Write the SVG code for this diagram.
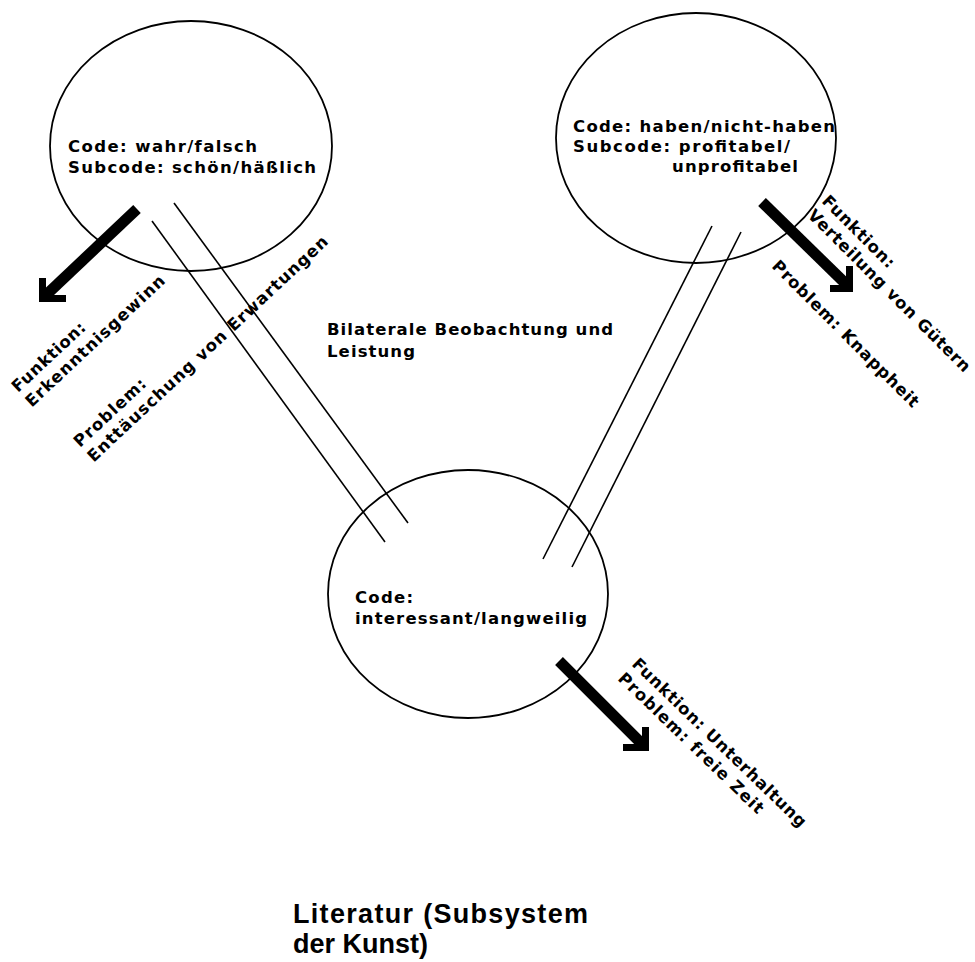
<svg xmlns="http://www.w3.org/2000/svg" width="975" height="962" viewBox="0 0 975 962">
  <style>
    .sys { fill: none; stroke: #000; stroke-width: 1.8; }
    .link { stroke: #000; stroke-width: 1.6; fill: none; }
    .shaft { stroke: #000; stroke-width: 11; fill: none; stroke-linecap: butt; }
    .head { stroke: #000; stroke-width: 7; fill: none; stroke-linejoin: miter; stroke-linecap: butt; }
    .t { font-family: "DejaVu Sans", "Liberation Sans", sans-serif; font-weight: bold; font-size: 16.5px; fill: #000; }
    .title { font-family: "Liberation Sans", "DejaVu Sans", sans-serif; font-weight: bold; font-size: 27px; fill: #000; }
  </style>
  <rect width="975" height="962" fill="#fff"/>

  <!-- Wissenschaft -->
  <g id="wissenschaft">
    <ellipse class="sys" cx="191" cy="146" rx="141" ry="125"/>
    <text class="t" x="68" y="152" textLength="189">Code: wahr/falsch</text>
    <text class="t" x="68" y="173" textLength="248">Subcode: schön/häßlich</text>
  </g>

  <!-- Wirtschaft -->
  <g id="wirtschaft">
    <ellipse class="sys" cx="696" cy="138" rx="140" ry="125"/>
    <text class="t" x="573" y="132" textLength="262">Code: haben/nicht-haben</text>
    <text class="t" x="573" y="152" textLength="217">Subcode: profitabel/</text>
    <text class="t" x="672" y="172" textLength="126">unprofitabel</text>
  </g>

  <!-- Literatur -->
  <g id="literatur">
    <ellipse class="sys" cx="468" cy="594" rx="140" ry="124"/>
    <text class="t" x="355" y="603" textLength="58">Code:</text>
    <text class="t" x="355" y="624" textLength="232">interessant/langweilig</text>
  </g>

  <!-- bilateral connections -->
  <g id="connectors">
    <line class="link" x1="152" y1="221" x2="385" y2="542"/>
    <line class="link" x1="174" y1="203" x2="408" y2="523"/>
    <line class="link" x1="712" y1="226" x2="543" y2="559"/>
    <line class="link" x1="741" y1="232" x2="572" y2="567"/>
  </g>

  <g id="bilateral-label">
    <text class="t" x="327" y="335" textLength="286">Bilaterale Beobachtung und</text>
    <text class="t" x="327" y="357" textLength="88">Leistung</text>
  </g>

  <!-- function arrows -->
  <g id="arrow-wissenschaft">
    <line class="shaft" x1="137" y1="209" x2="45" y2="296"/>
    <polyline class="head" points="42.5,278 42.5,298.5 66,298.5"/>
    <g transform="translate(18,393) rotate(-43)">
      <text class="t" x="0" y="0" textLength="94">Funktion:</text>
      <text class="t" x="0" y="20" textLength="184">Erkenntnisgewinn</text>
    </g>
    <g transform="translate(80,448) rotate(-43)">
      <text class="t" x="0" y="0" textLength="92">Problem:</text>
      <text class="t" x="0" y="20" textLength="322">Enttäuschung von Erwartungen</text>
    </g>
  </g>

  <g id="arrow-wirtschaft">
    <line class="shaft" x1="762" y1="202" x2="847" y2="285"/>
    <polyline class="head" points="849.5,266 849.5,288.5 830,288.5"/>
    <g transform="translate(821,202) rotate(45)">
      <text class="t" x="0" y="0" textLength="95">Funktion:</text>
      <text class="t" x="0" y="20" textLength="222">Verteilung von Gütern</text>
    </g>
    <g transform="translate(771,267) rotate(45)">
      <text class="t" x="0" y="0" textLength="200">Problem: Knappheit</text>
    </g>
  </g>

  <g id="arrow-literatur">
    <line class="shaft" x1="559" y1="661" x2="643" y2="745"/>
    <polyline class="head" points="645.5,727 645.5,747.5 623,747.5"/>
    <g transform="translate(631,665) rotate(44)">
      <text class="t" x="0" y="0" textLength="235">Funktion: Unterhaltung</text>
      <text class="t" x="0" y="20" textLength="195">Problem: freie Zeit</text>
    </g>
  </g>

  <g id="title">
    <text class="title" x="293" y="923" textLength="295">Literatur (Subsystem</text>
    <text class="title" x="293" y="953">der Kunst)</text>
  </g>
</svg>
